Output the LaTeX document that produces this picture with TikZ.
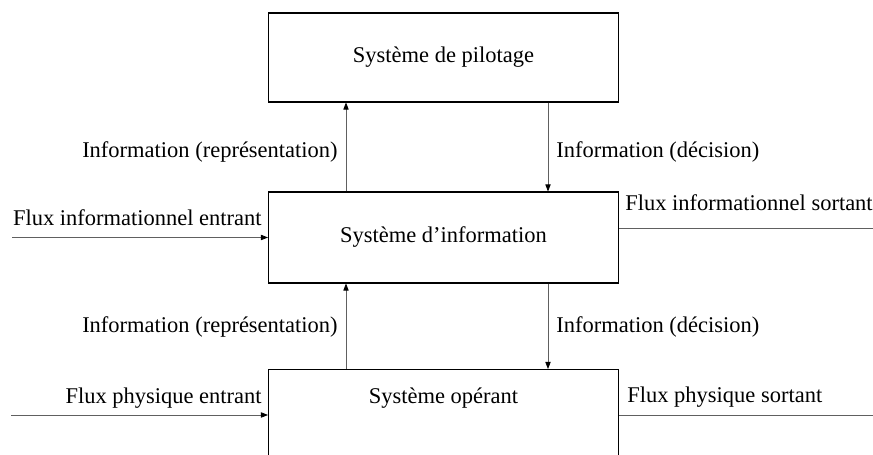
\documentclass[tikz,border=0pt]{standalone}
\usepackage{fontspec}
\setmainfont{Liberation Serif}
\usetikzlibrary{arrows.meta,positioning}
\tikzstyle{sysbox} = [draw, line width=0.6pt, minimum width=7cm, inner sep=0pt]
\tikzstyle{link} = [gray!75!black, line width=0.45pt]
\tikzstyle{flow} = [link, -{Triangle[black,length=4pt,width=3pt]}]
\tikzstyle{lbl} = [inner sep=0pt]

\begin{document}
\begin{tikzpicture}[x=0.02cm,y=-0.02cm,font=\fontsize{12.8}{15}\selectfont]
\clip (0,0) rectangle (873,455);
% the three systems
\node[sysbox, minimum height=1.78cm] (pilot) at (443.5,57.5) {Système de pilotage};
\node[sysbox, minimum height=1.82cm] (info) at (443.5,237.5) {Système d’information};
\node[sysbox, anchor=north, text height=9pt, text depth=2cm, inner ysep=10.3pt] (oper) at (443.5,369) {Système opérant};

\coordinate (up) at (346,0);
\coordinate (down) at (548,0);
\coordinate (inA) at (12,237.5);
\coordinate (outA) at (873,228);
\coordinate (inB) at (11,415);
\coordinate (outB) at (873,415);

% information going up and decisions going down
\draw[flow] (info.north -| up) -- (pilot.south -| up);
\draw[flow] (pilot.south -| down) -- (info.north -| down);
\draw[flow] (oper.north -| up) -- (info.south -| up);
\draw[flow] (info.south -| down) -- (oper.north -| down);

\node[lbl, anchor=base east] (repU) at (338,158) {Information (représentation)};
\node[lbl, anchor=base west] (decU) at (556,158) {Information (décision)};
\node[lbl, anchor=base east] (repL) at (338,333) {Information (représentation)};
\node[lbl, anchor=base west] (decL) at (556,333) {Information (décision)};

% flows in and out
\draw[flow] (inA) -- (info.west |- inA);
\draw[link] (info.east |- outA) -- (outA);
\draw[flow] (inB) -- (oper.west |- inB);
\draw[link] (oper.east |- outB) -- (outB);

\node[lbl, anchor=base east] (fluxIA) at (262,226) {Flux informationnel entrant};
\node[lbl, anchor=base west] (fluxOA) at (625,211) {Flux informationnel sortant};
\node[lbl, anchor=base east] (fluxIB) at (262,404) {Flux physique entrant};
\node[lbl, anchor=base west] (fluxOB) at (627,403) {Flux physique sortant};
\end{tikzpicture}
\end{document}
